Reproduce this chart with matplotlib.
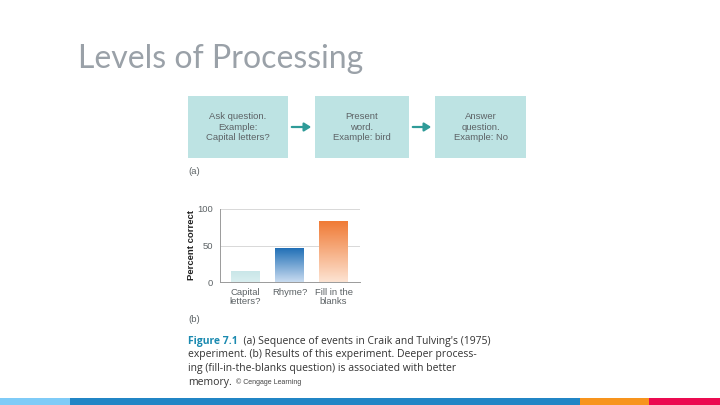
import numpy as np
import matplotlib
matplotlib.use('Agg')
import matplotlib.pyplot as plt
from matplotlib.patches import Rectangle, FancyArrowPatch

# data
title = 'Levels of Processing'
steps = ['Ask question.\nExample:\nCapital letters?',
         'Present\nword.\nExample: bird',
         'Answer\nquestion.\nExample: No']
conditions = ['Capital\nletters?', 'Rhyme?', 'Fill in the\nblanks']
percent_correct = [15, 47, 83]
y_ticks = [0, 50, 100]
caption_head = 'Figure 7.1'
caption_lines = ["  (a) Sequence of events in Craik and Tulving's (1975)",
                 'experiment. (b) Results of this experiment. Deeper process-',
                 'ing (fill-in-the-blanks question) is associated with better',
                 'memory.']
credit = '© Cengage Learning'

# bar gradients (top colour, bottom colour)
bar_grads = [('#c9e6e8', '#d9eff0'), ('#1d6db5', '#c8dbf0'), ('#f07b36', '#fde3d2')]

W, H = 720, 405
fig = plt.figure(figsize=(7.2, 4.05), dpi=100)
bg = fig.add_axes([0, 0, 1, 1])
bg.set_xlim(0, W)
bg.set_ylim(H, 0)
bg.axis('off')

# title
bg.text(78, 59, title, fontsize=23, color='#9aa1a8', family='Lato',
        va='center', ha='left')

# flow boxes
boxes = [(188, 288), (315, 409), (435, 526)]
for (x0, x1), s in zip(boxes, steps):
    bg.add_patch(Rectangle((x0, 96), x1 - x0, 62, color='#bde3e3', lw=0))
    bg.text((x0 + x1) / 2, 127, s, ha='center', va='center', fontsize=6.8,
            color='#5d6366', family='Liberation Sans', linespacing=1.15)
for i in range(len(boxes) - 1):
    bg.add_patch(FancyArrowPatch((boxes[i][1] + 1, 127), (boxes[i + 1][0] - 1, 127),
                                 arrowstyle='-|>,head_length=4,head_width=2.5',
                                 color='#2f9b98', lw=1.6, mutation_scale=1))
bg.text(188, 171, '(a)', fontsize=6.8, color='#5d6366', va='center',
        family='Liberation Sans')
bg.text(188, 320, '(b)', fontsize=6.8, color='#5d6366', va='center',
        family='Liberation Sans')

# bar chart
ax = fig.add_axes([220 / W, 1 - 282 / H, 140 / W, 73 / H])
x = np.arange(len(conditions))
bars = ax.bar(x, percent_correct, width=0.64, color='none', lw=0, zorder=3)
for b, (ctop, cbot) in zip(bars, bar_grads):
    c0 = np.array(matplotlib.colors.to_rgb(cbot))
    c1 = np.array(matplotlib.colors.to_rgb(ctop))
    t = np.linspace(0, 1, 64)[:, None]
    img = (c0 + (c1 - c0) * t)[:, None, :]
    bx, by = b.get_x(), b.get_y()
    im = ax.imshow(img, extent=[bx, bx + b.get_width(), by, by + b.get_height()],
                   origin='lower', aspect='auto', zorder=3)
    im.set_clip_path(b)
ax.set_xlim(-0.58, 2.6)
ax.set_ylim(0, 100)
ax.set_yticks(y_ticks)
ax.set_xticks(x)
ax.set_xticklabels(conditions, fontsize=6.8, color='#5d6366',
                   family='Liberation Sans', linespacing=1.1)
ax.tick_params(axis='y', labelsize=6.8, labelcolor='#5d6366', length=0, pad=5)
ax.tick_params(axis='x', length=0, pad=4)
for lbl in ax.get_yticklabels():
    lbl.set_family('Liberation Sans')
ax.grid(axis='y', color='#d8d8d8', lw=0.7, zorder=0)
ax.set_axisbelow(True)
for side in ['top', 'right']:
    ax.spines[side].set_visible(False)
for side in ['left', 'bottom']:
    ax.spines[side].set_color('#9a9a9a')
    ax.spines[side].set_linewidth(0.7)
ax.set_ylabel('Percent correct', fontsize=6.8, color='#222222',
              family='Liberation Sans', fontweight='bold', labelpad=1)
ax.set_facecolor('none')

# caption
cap_font = dict(fontsize=7.5, family='Open Sans', va='bottom', ha='left')
ys = [347, 360.5, 374, 387.5]
head = bg.text(188, ys[0], caption_head, color='#1b8ab0', fontweight='bold',
               **cap_font)
bg.annotate(caption_lines[0], xy=(1, 0), xycoords=head, color='#333333',
            **cap_font)
for y, line in zip(ys[1:], caption_lines[1:]):
    t = bg.text(188, y, line, color='#333333', **cap_font)
bg.annotate('  ' + credit, xy=(1, 0.12), xycoords=t, color='#444444',
            fontsize=5, family='Liberation Sans', va='bottom', ha='left')

# bottom stripe
stripe = [(0, 70, '#7fcbf7'), (70, 580, '#2185c5'), (580, 649, '#f7941d'),
          (649, 720, '#eb0a50')]
for x0, x1, c in stripe:
    bg.add_patch(Rectangle((x0, 397.5), x1 - x0, 8, color=c, lw=0))

fig.savefig('out.png', dpi=100)
